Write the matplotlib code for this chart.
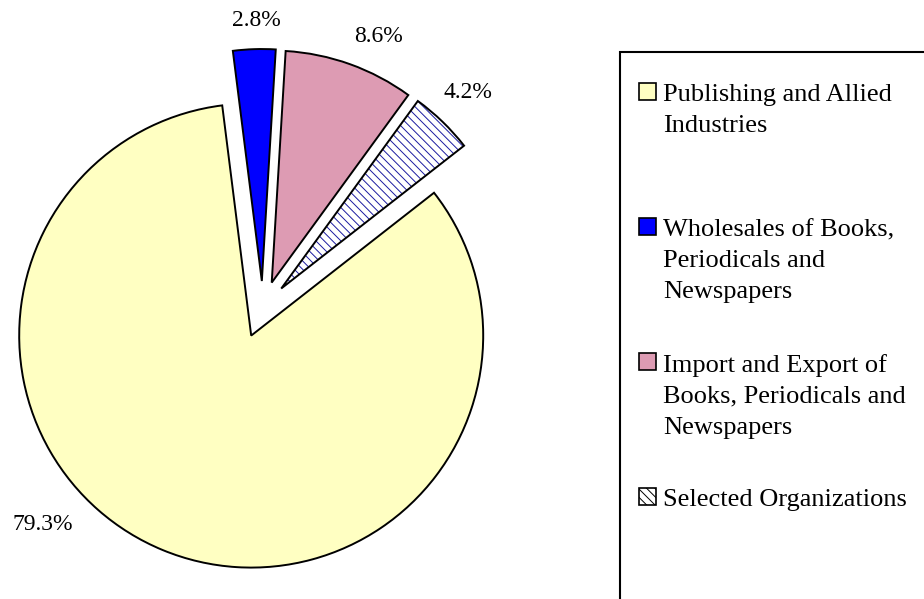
import matplotlib.pyplot as plt
from matplotlib.patches import Wedge, Rectangle

categories = ['Publishing and Allied\nIndustries',
              'Wholesales of Books,\nPeriodicals and\nNewspapers',
              'Import and Export of\nBooks, Periodicals and\nNewspapers',
              'Selected Organizations']
shares = [79.3, 2.8, 8.6, 4.2]
pct_labels = ['79.3%', '2.8%', '8.6%', '4.2%']
colors = ['#FFFFC2', '#0000FF', '#DD9BB3', '#FFFFFF']
explode = [0.13, 0.115, 0.115, 0.115]

W, H = 924, 599
R = 232.0            # pie radius in pixels
cx, cy = 262.7, 307.7  # pie centre in pixels (from top-left)

# where Excel put the percentage labels (pixels)
label_px = [(43, 524), (256.5, 21), (378, 37), (468, 92)]

serif = ['Liberation Serif', 'DejaVu Serif']
plt.rcParams['hatch.linewidth'] = 0.7

fig = plt.figure(figsize=(W / 100, H / 100), dpi=100)
ax = fig.add_axes([0, 0, 1, 1])

wedges, _ = ax.pie(shares, explode=explode, colors=colors, startangle=38.0,
                   counterclock=False,
                   wedgeprops=dict(edgecolor='black', linewidth=1.4))

# hatched slice: blue hatch, black outline on top
hw = wedges[3]
hw.set_hatch('\\\\\\\\')
hw.set_edgecolor('#1a1aa0')
hw.set_linewidth(0)
ax.add_patch(Wedge(hw.center, hw.r, hw.theta1, hw.theta2, fill=False,
                   edgecolor='black', linewidth=1.4))

for (px, py), t in zip(label_px, pct_labels):
    ax.text((px - cx) / R, (cy - py) / R, t, ha='center', va='center',
            fontsize=17, family=serif)

ax.set_aspect('auto')
ax.set_xlim(-cx / R, (W - cx) / R)
ax.set_ylim(-(H - cy) / R, cy / R)
ax.axis('off')

# legend box (runs off the right and bottom edges like the original)
fig.patches.append(Rectangle((620 / W, -0.05), 0.4, 1 - 52 / H + 0.05,
                             transform=fig.transFigure, fill=False,
                             edgecolor='black', linewidth=1.5))
for i, (lab, c) in enumerate(zip(categories, colors)):
    ytop = 83 + 135 * i
    sq = Rectangle((639 / W, 1 - (ytop + 17) / H), 17 / W, 17 / H,
                   transform=fig.transFigure, facecolor=c,
                   edgecolor='black', linewidth=1.2)
    if i == 3:
        sq.set_hatch('\\\\\\\\')
    fig.patches.append(sq)
    fig.text(663 / W, 1 - (ytop + 1) / H, lab, ha='left', va='top',
             fontsize=19, family=serif, linespacing=1.52)

fig.savefig('out.png', dpi=100)
